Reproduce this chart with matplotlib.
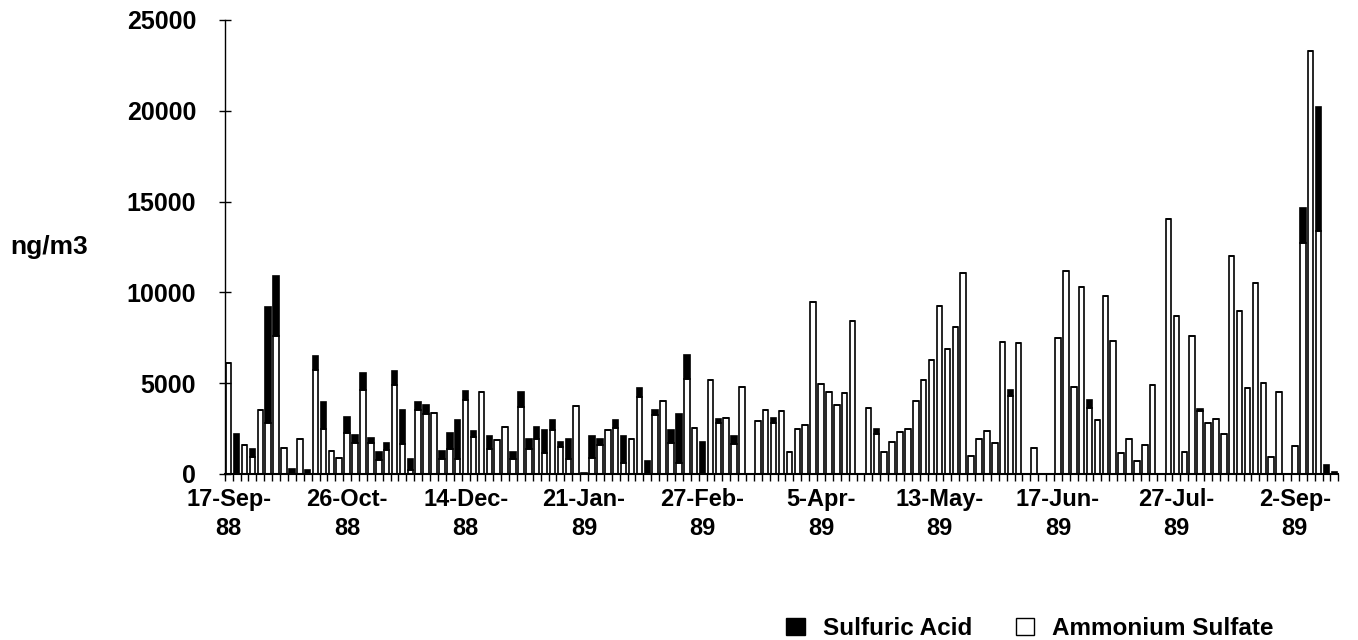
import numpy as np
import matplotlib
matplotlib.use('Agg')
import matplotlib.pyplot as plt
from matplotlib.patches import Patch

# sampling days, one category per sample (labels only on every 15th)
tick_labels = ['17-Sep-\n88', '26-Oct-\n88', '14-Dec-\n88', '21-Jan-\n89', '27-Feb-\n89',
               '5-Apr-\n89', '13-May-\n89', '17-Jun-\n89', '27-Jul-\n89', '2-Sep-\n89']
label_every = 15

# Ammonium sulfate (ng/m3)
ammonium_sulfate = [
    6100, 0, 1600, 950, 3500, 2800, 7600, 1450, 0, 1900,
    0, 5750, 2500, 1250, 900, 2250, 1700, 4600, 1700, 750,
    1300, 4900, 1650, 200, 3550, 3300, 3350, 850, 1400, 850,
    4050, 2050, 4500, 1400, 1850, 2600, 800, 3700, 1400, 1950,
    1150, 2400, 1500, 850, 3750, 0, 900, 1600, 2400, 2550,
    600, 1950, 4250, 0, 3250, 4000, 1700, 600, 5250, 2550,
    0, 5150, 2800, 3100, 1650, 4800, 0, 2900, 3500, 2800,
    3450, 1200, 2450, 2700, 9450, 4950, 4500, 3800, 4450, 8400,
    0, 3650, 2200, 1200, 1750, 2300, 2450, 4000, 5150, 6250,
    9250, 6900, 8100, 11050, 1000, 1900, 2350, 1700, 7250, 4300,
    7200, 0, 1450, 0, 0, 7500, 11200, 4800, 10300, 3650,
    3000, 9800, 7300, 1150, 1950, 700, 1600, 4900, 0, 14050,
    8700, 1200, 7600, 3450, 2800, 3050, 2200, 12000, 9000, 4750,
    10500, 5000, 950, 4500, 0, 1550, 12700, 23300, 13400, 0,
    0]

# Sulfuric acid (ng/m3), stacked on top
sulfuric_acid = [
    0, 2200, 0, 400, 0, 6400, 3300, 0, 250, 0,
    200, 750, 1450, 0, 0, 900, 450, 950, 300, 450,
    400, 750, 1850, 600, 400, 500, 0, 400, 850, 2100,
    500, 300, 0, 700, 0, 0, 400, 800, 550, 650,
    1250, 600, 250, 1100, 0, 50, 1200, 350, 0, 450,
    1500, 0, 500, 700, 300, 0, 700, 2700, 1300, 0,
    1750, 0, 250, 0, 450, 0, 0, 0, 0, 300,
    0, 0, 0, 0, 0, 0, 0, 0, 0, 0,
    0, 0, 300, 0, 0, 0, 0, 0, 0, 0,
    0, 0, 0, 0, 0, 0, 0, 0, 0, 300,
    0, 0, 0, 0, 0, 0, 0, 0, 0, 450,
    0, 0, 0, 0, 0, 0, 0, 0, 0, 0,
    0, 0, 0, 150, 0, 0, 0, 0, 0, 0,
    0, 0, 0, 0, 0, 0, 1950, 0, 6800, 500,
    100]

plt.rcParams['font.family'] = ['Liberation Sans', 'DejaVu Sans']
plt.rcParams['font.weight'] = 'bold'

n = len(ammonium_sulfate)
x = np.arange(n)

fig = plt.figure(figsize=(13.58, 6.4), dpi=100)
ax = fig.add_axes([0.1655, 0.2594, 0.82, 0.7094])

ax.bar(x, ammonium_sulfate, width=0.7, color='white', edgecolor='black', linewidth=1.2)
ax.bar(x, sulfuric_acid, width=0.7, bottom=ammonium_sulfate, color='black', edgecolor='black', linewidth=1.2)

ax.set_xlim(-0.5, n - 0.5)
ax.set_ylim(0, 25000)
ax.set_yticks(np.arange(0, 25001, 5000))

# labels on every 15th category, small ticks between every category
label_pos = np.arange(len(tick_labels)) * label_every
ax.set_xticks(label_pos)
ax.set_xticklabels(tick_labels, fontsize=17, fontweight='bold', linespacing=1.35)
ax.set_xticks(np.arange(n + 1) - 0.5, minor=True)
ax.tick_params(axis='x', which='major', length=0, pad=10)
ax.tick_params(axis='x', which='minor', direction='out', length=5, width=1)
ax.tick_params(axis='y', direction='inout', length=9, width=1, pad=16, labelsize=18)

for spine in ['top', 'right']:
    ax.spines[spine].set_visible(False)
ax.spines['left'].set_linewidth(1)
ax.spines['bottom'].set_linewidth(1.5)

fig.text(10 / 1358, 1 - 247 / 640, 'ng/m3', fontsize=19, fontweight='bold', ha='left', va='center')

handles = [Patch(facecolor='black', edgecolor='black', label='Sulfuric Acid'),
           Patch(facecolor='white', edgecolor='black', label='Ammonium Sulfate')]
fig.legend(handles=handles, loc='center', bbox_to_anchor=(1030 / 1358, 0.018), ncol=2,
           frameon=False, fontsize=17.5, handlelength=0.75, handleheight=0.75,
           handletextpad=0.75, columnspacing=1.8)

fig.savefig('out.png', dpi=100)
